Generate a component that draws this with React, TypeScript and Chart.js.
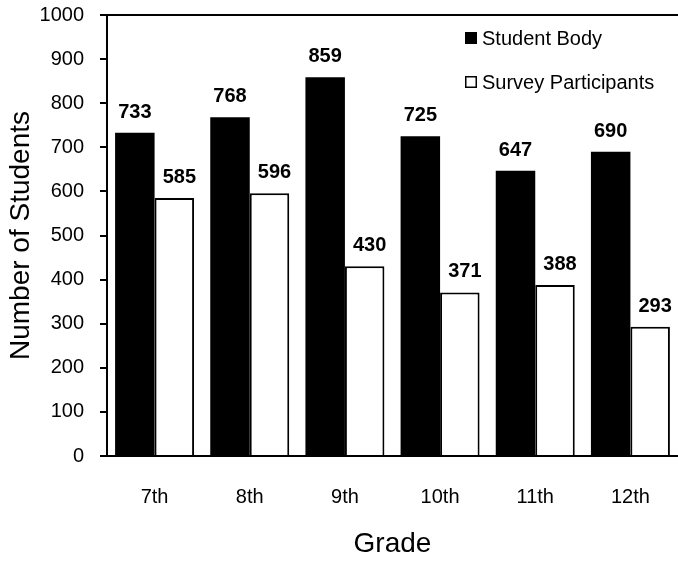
import React, { useEffect, useRef } from "react";
import { Chart, registerables } from "chart.js";

Chart.register(...registerables);

const grades = ["7th", "8th", "9th", "10th", "11th", "12th"];
const studentBody = [733, 768, 859, 725, 647, 690];
const surveyParticipants = [585, 596, 430, 371, 388, 293];
const seriesNames = ["Student Body", "Survey Participants"];
const yTitle = "Number of Students";
const xTitle = "Grade";

const FONT = "'Liberation Sans', Arial, sans-serif";

const extrasPlugin = {
  id: "extras",
  afterDatasetsDraw(chart: any) {
    const { ctx, chartArea } = chart;
    ctx.save();
    // top frame line
    ctx.strokeStyle = "#000";
    ctx.lineWidth = 2;
    ctx.beginPath();
    ctx.moveTo(chartArea.left, chartArea.top);
    ctx.lineTo(chartArea.right, chartArea.top);
    ctx.stroke();

    // value labels
    ctx.fillStyle = "#000";
    ctx.font = `bold 20px ${FONT}`;
    ctx.textAlign = "center";
    ctx.textBaseline = "alphabetic";
    chart.data.datasets.forEach((ds: any, di: number) => {
      const meta = chart.getDatasetMeta(di);
      meta.data.forEach((bar: any, i: number) => {
        const dx = di === 1 ? 5 : 0;
        ctx.fillText(String(ds.data[i]), bar.x + dx, bar.y - 15);
      });
    });

    // legend
    const lx = 465;
    const rows = [38, 82];
    ctx.font = `20px ${FONT}`;
    ctx.textAlign = "left";
    ctx.textBaseline = "middle";
    chart.data.datasets.forEach((ds: any, di: number) => {
      const cy = rows[di];
      const size = 12;
      if (di === 0) {
        ctx.fillStyle = "#000";
        ctx.fillRect(lx, cy - size / 2, size, size);
      } else {
        ctx.fillStyle = "#fff";
        ctx.fillRect(lx, cy - size / 2, size, size);
        ctx.strokeStyle = "#000";
        ctx.lineWidth = 1.5;
        ctx.strokeRect(lx + 0.75, cy - size / 2 + 0.75, size - 1.5, size - 1.5);
      }
      ctx.fillStyle = "#000";
      ctx.fillText(ds.label, lx + 17, cy + 1);
    });
    ctx.restore();
  },
};

export default function App() {
  const canvasRef = useRef<HTMLCanvasElement | null>(null);

  useEffect(() => {
    document.body.style.margin = "0";
    const canvas = canvasRef.current;
    if (!canvas) return;
    const chart = new Chart(canvas, {
      type: "bar",
      data: {
        labels: grades,
        datasets: [
          {
            label: seriesNames[0],
            data: studentBody,
            backgroundColor: "#000",
            borderColor: "#000",
            borderWidth: 0,
            categoryPercentage: 0.83,
            barPercentage: 1,
          },
          {
            label: seriesNames[1],
            data: surveyParticipants,
            backgroundColor: "#fff",
            borderColor: "#000",
            borderWidth: 2,
            borderSkipped: "bottom",
            categoryPercentage: 0.83,
            barPercentage: 1,
          },
        ],
      },
      options: {
        responsive: false,
        animation: false,
        devicePixelRatio: 1,
        layout: { padding: { top: 15, right: 0, left: 0, bottom: 0 } },
        plugins: {
          legend: { display: false },
          tooltip: { enabled: false },
        },
        scales: {
          x: {
            grid: { display: false },
            border: { display: true, color: "#000", width: 2 },
            ticks: {
              color: "#000",
              font: { family: FONT, size: 20 },
              padding: 21,
            },
            title: {
              display: true,
              text: xTitle,
              color: "#000",
              font: { family: FONT, size: 28 },
              padding: { top: 0, bottom: 0 },
            },
            afterFit(scale: any) {
              scale.height = 105;
              scale.paddingLeft = 0;
              scale.paddingRight = 0;
            },
          },
          y: {
            min: 0,
            max: 1000,
            ticks: {
              stepSize: 100,
              color: "#000",
              font: { family: FONT, size: 20 },
              padding: 16,
              callback: (v: any) => String(v),
            },
            grid: {
              display: true,
              drawOnChartArea: false,
              drawTicks: true,
              tickLength: 7,
              color: "#000",
              lineWidth: 2,
            },
            border: { display: true, color: "#000", width: 2 },
            title: {
              display: true,
              text: yTitle,
              color: "#000",
              font: { family: FONT, size: 28 },
              padding: { top: 4, bottom: 0 },
            },
            afterFit(scale: any) {
              scale.width = 107;
              scale.paddingTop = 0;
              scale.paddingBottom = 0;
            },
          },
        },
      },
      plugins: [extrasPlugin],
    });
    return () => chart.destroy();
  }, []);

  return (
    <div style={{ width: 678, height: 561 }}>
      <canvas ref={canvasRef} width={678} height={561} />
    </div>
  );
}
